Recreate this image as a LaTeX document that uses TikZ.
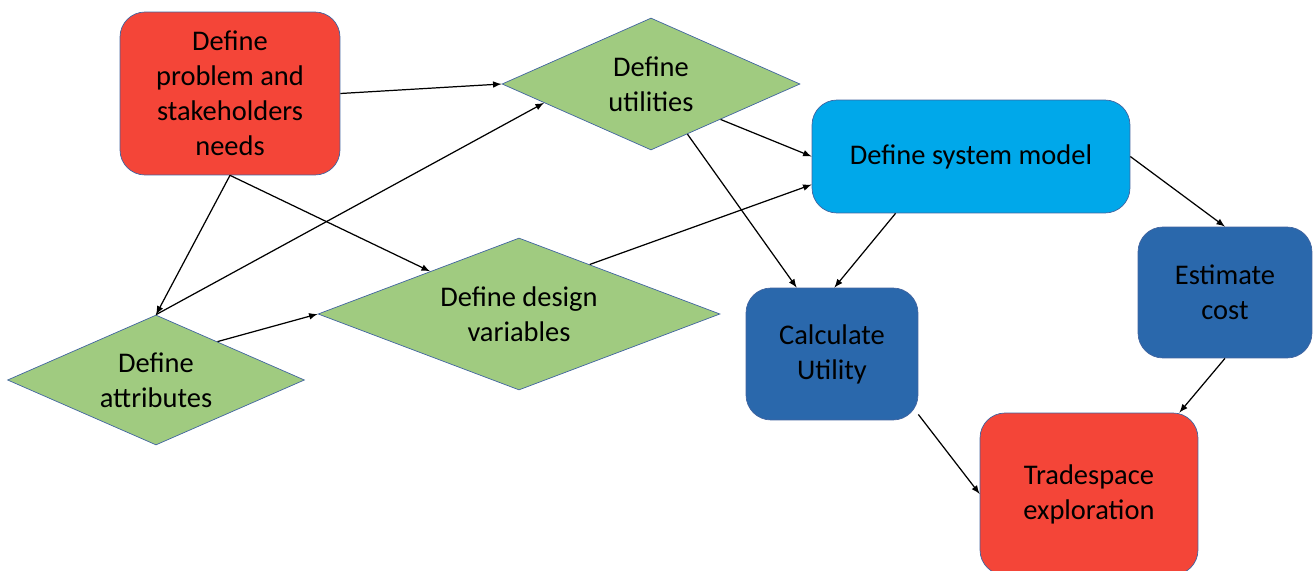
\documentclass[tikz,border=0pt]{standalone}
\usepackage{fontspec}
\setmainfont{Carlito}
\usepackage{tikz}
\usetikzlibrary{positioning}
\usetikzlibrary{arrows}
\usetikzlibrary{shapes.geometric}
\definecolor{red}{RGB}{244,69,56}
\definecolor{green}{RGB}{160,203,128}
\definecolor{lblue}{RGB}{0,168,234}
\definecolor{dblue}{RGB}{42,104,172}
\definecolor{edge}{RGB}{65,100,160}

\begin{document}
\begin{tikzpicture}[x=0.02cm, y=-0.02cm, >=latex,
every node/.style={font=\fontsize{16.2}{19.9}\selectfont},
box/.style={rectangle,rounded corners=0.5cm,draw=edge,thin,align=center,inner sep=2pt},
dia/.style={diamond,draw=edge,thin,fill=green,align=center,inner sep=0pt}]
\useasboundingbox (0,0) rectangle (1313,571);

% boxes
\node [box,fill=red,minimum width=4.4cm,minimum height=3.26cm] (problem) at (230,93.5) {Define\\problem and\\stakeholders\\needs};
\node [box,fill=lblue,minimum width=6.36cm,minimum height=2.26cm] (sysmodel) at (971,156.5) {Define system model};
\node [box,fill=dblue,minimum width=3.48cm,minimum height=2.62cm] (cost) at (1225,292.5) {Estimate\\cost};
\node [box,fill=dblue,minimum width=3.44cm,minimum height=2.64cm] (calcutil) at (832,354) {Calculate\\Utility};
\node [box,fill=red,minimum width=4.36cm,minimum height=3.24cm] (trade) at (1089,494) {Tradespace\\exploration};

% diamonds
\node [dia,aspect=2.26,minimum width=5.96cm,minimum height=2.64cm] (utilities) at (651,84) {Define\\utilities};
\node [dia,aspect=2.64,minimum width=8.04cm,minimum height=3.04cm] (design) at (519,314) {Define design\\variables};
\node [dia,aspect=2.28,minimum width=5.94cm,minimum height=2.6cm] (attributes) at (156,380) {Define\\attributes};

\begin{scope}[line width=0.7pt]
\draw [->] (problem.east) -- (utilities.west);
\draw [->] (problem.south) -- (attributes.north);
\draw [->] (problem.south) -- (design);
\draw [->] (attributes.north) -- (utilities.190);
\draw [->] (attributes.32) -- (design.west);
\draw [->] (design.35) -- (sysmodel.190);
\draw [->] (utilities.333) -- (sysmodel.west);
\draw [->] (utilities.306) -- (calcutil.118);
\draw [->] (sysmodel.217) -- (calcutil.88);
\draw [->] (sysmodel.east) -- (cost.north);
\draw [->] (cost.south) -- (trade.42);
\draw [->] (calcutil.325) -- (trade.west);
\end{scope}
\end{tikzpicture}
\end{document}
